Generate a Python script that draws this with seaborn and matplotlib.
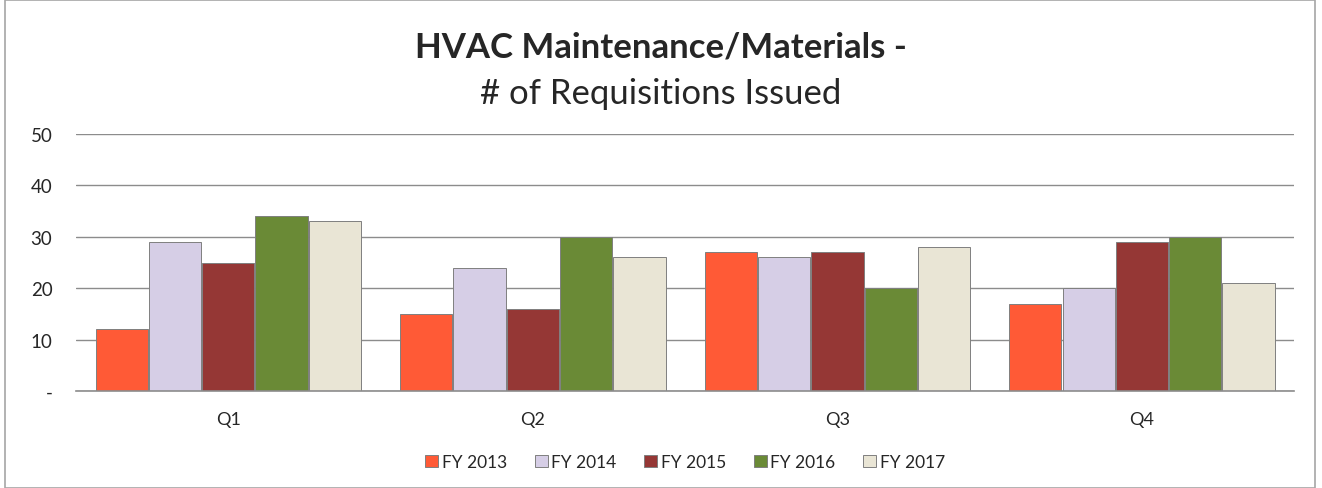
import pandas as pd
import matplotlib.pyplot as plt
import seaborn as sns
from matplotlib.patches import Rectangle

quarters = ["Q1", "Q2", "Q3", "Q4"]
years = ["FY 2013", "FY 2014", "FY 2015", "FY 2016", "FY 2017"]
fy2013 = [12, 15, 27, 17]
fy2014 = [29, 24, 26, 20]
fy2015 = [25, 16, 27, 29]
fy2016 = [34, 30, 20, 30]
fy2017 = [33, 26, 28, 21]
colors = ["#FF5A36", "#D6CEE6", "#953735", "#6A8A36", "#E9E5D5"]

rows = []
for yr, vals in zip(years, [fy2013, fy2014, fy2015, fy2016, fy2017]):
    for q, v in zip(quarters, vals):
        rows.append({"quarter": q, "year": yr, "count": v})
df = pd.DataFrame(rows)

sns.set_style("white")
plt.rcParams["font.family"] = ["Lato", "DejaVu Sans"]

fig = plt.figure(figsize=(13.22, 4.89), dpi=100)
ax = fig.add_axes([0.0575, 0.198, 0.9215, 0.526])

sns.barplot(data=df, x="quarter", y="count", hue="year", palette=colors,
            width=0.875, gap=0.02, edgecolor="#7f7f7f", linewidth=0.7,
            saturation=1, ax=ax)

ax.set_ylim(0, 50)
ax.set_yticks([0, 10, 20, 30, 40, 50])
ax.set_yticklabels(["-", "10", "20", "30", "40", "50"])
ax.yaxis.grid(True, color="#8c8c8c", linewidth=1)
ax.set_axisbelow(True)
for s in ["top", "right", "left"]:
    ax.spines[s].set_visible(False)
ax.spines["bottom"].set_color("#8c8c8c")
ax.spines["bottom"].set_linewidth(1.2)
ax.tick_params(axis="y", labelsize=13.5, length=0, pad=17)
ax.tick_params(axis="x", labelsize=13, length=0, pad=14)
ax.set_xlabel("")
ax.set_ylabel("")

ax.legend(loc="center", bbox_to_anchor=(0.5, -0.276), ncol=5, frameon=False,
          fontsize=12.5, handlelength=0.75, handleheight=0.75, handletextpad=0.2,
          columnspacing=1.6)

fig.text(0.5, 0.902, "HVAC Maintenance/Materials -", ha="center", va="center",
         fontsize=25, fontweight="bold")
fig.text(0.5, 0.808, "# of Requisitions Issued", ha="center", va="center",
         fontsize=25)

fig.patches.append(Rectangle((0.004, 0.001), 0.991, 0.997, transform=fig.transFigure,
                             fill=False, edgecolor="#a6a6a6", linewidth=1.2))

fig.savefig("out.png", dpi=100)
